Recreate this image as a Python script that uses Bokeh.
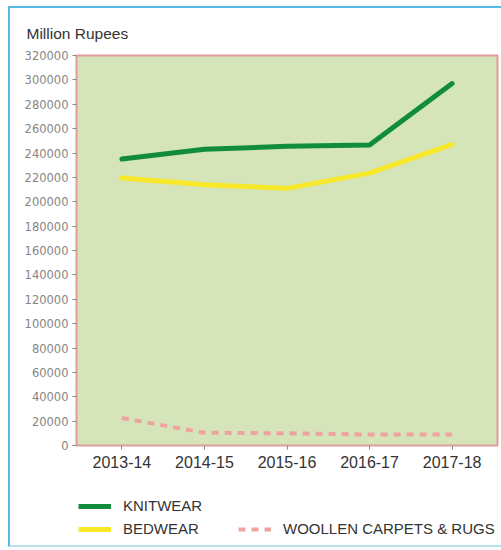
from bokeh.plotting import figure
from bokeh.layouts import column
from bokeh.models import FactorRange, Range1d, Legend, LegendItem, NumeralTickFormatter
from bokeh.embed import file_html
from bokeh.resources import INLINE

years = ["2013-14", "2014-15", "2015-16", "2016-17", "2017-18"]
knitwear = [235000, 243000, 245500, 246500, 297000]
bedwear = [219500, 214000, 211000, 223500, 247000]
woollen = [22500, 10500, 10000, 9000, 9000]
y_ticks = list(range(0, 320001, 20000))
series_names = ["KNITWEAR", "BEDWEAR", "WOOLLEN CARPETS & RUGS"]

FONT = "Liberation Sans"
C_KNIT, C_BED, C_WOOL = "#118c3a", "#f7e82a", "#efa2a2"

p = figure(width=491, height=478, output_backend="svg", toolbar_location=None,
           x_range=FactorRange(factors=years, range_padding=0.02),
           y_range=Range1d(0, 320000),
           min_border_left=66, min_border_right=4, min_border_top=47, min_border_bottom=41,
           title="Million Rupees")

p.title.text_font = FONT
p.title.text_font_size = "15.5px"
p.title.text_font_style = "normal"
p.title.text_color = "#333333"
p.title.offset = -50
p.title.standoff = 26
p.title.vertical_align = "middle"

p.background_fill_color = "#d6e4b9"
p.border_fill_color = "white"
p.outline_line_color = "#e29a9a"
p.outline_line_width = 2
p.xgrid.grid_line_color = None
p.ygrid.grid_line_color = None

p.yaxis.ticker = y_ticks
p.yaxis.formatter = NumeralTickFormatter(format="0")
p.yaxis.major_label_text_font = "DejaVu Sans"
p.yaxis.major_label_text_font_size = "11.5px"
p.yaxis.major_label_text_color = "#858585"
p.yaxis.axis_line_color = None
p.yaxis.major_tick_line_color = "#888888"
p.yaxis.major_tick_in = 0
p.yaxis.major_tick_out = 4
p.yaxis.minor_tick_line_color = None
p.yaxis.major_label_standoff = 4

p.xaxis.major_label_text_font = FONT
p.xaxis.major_label_text_font_size = "16px"
p.xaxis.major_label_text_color = "#333333"
p.xaxis.axis_line_color = "#d9a0a0"
p.xaxis.major_tick_line_color = "#888888"
p.xaxis.major_tick_in = 0
p.xaxis.major_tick_out = 4
p.xaxis.major_label_standoff = 6

p.line(years, knitwear, line_color=C_KNIT, line_width=5, line_cap="round")
p.line(years, bedwear, line_color=C_BED, line_width=5, line_cap="round")
p.line(years, woollen, line_color=C_WOOL, line_width=4, line_dash="7 6")

# legend panel below the chart (its lines lie outside its range; only the legend shows)
lg = figure(width=491, height=59, output_backend="svg", toolbar_location=None,
            x_range=FactorRange(factors=years), y_range=Range1d(-2, -1),
            x_axis_type=None, y_axis_type=None,
            min_border_left=0, min_border_right=0, min_border_top=0, min_border_bottom=0)
lg.outline_line_color = None
lg.background_fill_color = "white"
lg.border_fill_color = "white"
lg.grid.grid_line_color = None

d_knit = lg.line(years, knitwear, line_color=C_KNIT, line_width=5)
d_bed = lg.line(years, bedwear, line_color=C_BED, line_width=5)
d_wool = lg.line(years, woollen, line_color=C_WOOL, line_width=4, line_dash="7 6")

common = dict(orientation="vertical", background_fill_alpha=0, border_line_color=None,
              label_text_font=FONT, label_text_font_size="15px", label_text_color="#333333",
              glyph_width=33, glyph_height=14, label_height=14, padding=0, margin=0)
leg1 = Legend(items=[LegendItem(label=series_names[0], renderers=[d_knit]),
                     LegendItem(label=series_names[1], renderers=[d_bed])],
              spacing=6, label_standoff=12, location=(2, 8), **common)
leg2 = Legend(items=[LegendItem(label=series_names[2], renderers=[d_wool])],
              label_standoff=12, location=(162, 8), **common)
lg.add_layout(leg1, "center")
lg.add_layout(leg2, "center")

layout = column(p, lg, spacing=0,
                styles={"margin-left": "8px", "margin-top": "6px",
                        "border-left": "2px solid #58b9e2", "border-top": "2px solid #58b9e2",
                        "border-bottom": "2px solid #b9e1f2"})

open("out.html", "w").write(file_html(layout, INLINE))
